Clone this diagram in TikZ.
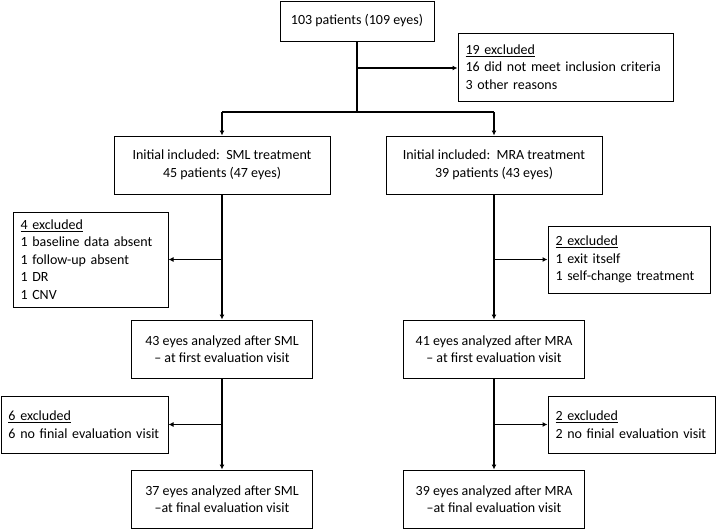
\documentclass[tikz,border=0pt]{standalone}
\usepackage{fontspec}
\setmainfont{Carlito}
\usetikzlibrary{arrows.meta}
\begin{document}
\begin{tikzpicture}[x=1pt,y=-1pt,
  every node/.style={font=\fontsize{14}{17.5}\selectfont},
  box/.style={draw, line width=1pt, inner sep=0pt, align=center},
  exbox/.style={draw, line width=1pt, inner xsep=7.5pt, inner ysep=0pt, align=left},
  conn/.style={line width=1.3pt},
  arr/.style={line width=1.3pt, -{Latex[length=5pt,width=5pt]}}]
\useasboundingbox (0,0) rectangle (716,530);
\node[box, minimum width=154pt, minimum height=40pt] (top) at (357,21) {103 patients (109 eyes)};
\node[exbox, minimum width=215pt, minimum height=68pt, text width=200pt] (ex1) at (565.5,67) {\underline{19 excluded}\\16 did not meet inclusion criteria\\3 other reasons};
\node[box, minimum width=216pt, minimum height=58pt] (sml) at (222,165) {Initial included:\ \ SML treatment\\45 patients (47 eyes)};
\node[box, minimum width=216pt, minimum height=58pt] (mra) at (494,165) {Initial included:\ \ MRA treatment\\39 patients (43 eyes)};
\node[exbox, minimum width=155pt, minimum height=95pt, text width=140pt] (ex2) at (90.5,259.5) {\underline{4 excluded}\\1 baseline data absent\\1 follow-up absent\\1 DR\\1 CNV};
\node[exbox, minimum width=162pt, minimum height=67pt, text width=147pt] (ex3) at (629,259.5) {\underline{2 excluded}\\1 exit itself\\1 self-change treatment};
\node[box, minimum width=181pt, minimum height=58pt] (a1) at (222,349) {43 eyes analyzed after SML\\-- at first evaluation visit};
\node[box, minimum width=181pt, minimum height=58pt] (a2) at (494,349) {41 eyes analyzed after MRA\\-- at first evaluation visit};
\node[exbox, minimum width=167pt, minimum height=57pt, text width=152pt] (ex4) at (84.5,424.5) {\underline{6 excluded}\\6 no finial evaluation visit};
\node[exbox, minimum width=167pt, minimum height=57pt, text width=152pt] (ex5) at (631.5,424.5) {\underline{2 excluded}\\2 no finial evaluation visit};
\node[box, minimum width=181pt, minimum height=58pt] (f1) at (222,499) {37 eyes analyzed after SML\\--at final evaluation visit};
\node[box, minimum width=181pt, minimum height=58pt] (f2) at (494,499) {39 eyes analyzed after MRA\\--at final evaluation visit};
% junction coordinates
\coordinate (j0) at (357,112);
\coordinate (b1) at (357,68);
\coordinate (jl) at (222,112);
\coordinate (jr) at (494,112);
\coordinate (b2) at (222,259.5);
\coordinate (b3) at (494,259.5);
\coordinate (b4) at (222,424.5);
\coordinate (b5) at (494,424.5);
% connectors
\draw[conn] (top.south) -- (j0);
\draw[arr] (b1) -- (ex1.west |- b1);
\draw[conn] (jl) -- (jr);
\draw[arr] (jl) -- (sml.north);
\draw[arr] (jr) -- (mra.north);
\draw[arr] (sml.south) -- (a1.north);
\draw[arr] (b2) -- (ex2.east |- b2);
\draw[arr] (mra.south) -- (a2.north);
\draw[arr] (b3) -- (ex3.west |- b3);
\draw[arr] (a1.south) -- (f1.north);
\draw[arr] (b4) -- (ex4.east |- b4);
\draw[arr] (a2.south) -- (f2.north);
\draw[arr] (b5) -- (ex5.west |- b5);
\end{tikzpicture}
\end{document}
